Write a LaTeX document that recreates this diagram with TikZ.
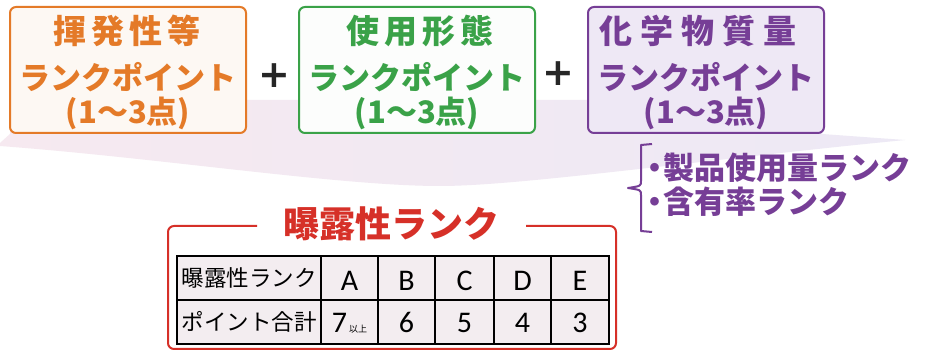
\documentclass[tikz,border=0pt]{standalone}
\usepackage{fontspec}
\newfontfamily\jp{Noto Sans CJK JP}
\newfontfamily\lat{Carlito}
\newfontfamily\symf{DejaVu Sans}
\definecolor{oran}{RGB}{228,122,40}
\definecolor{gree}{RGB}{58,162,72}
\definecolor{purp}{RGB}{118,62,150}
\definecolor{redt}{RGB}{214,48,40}
\definecolor{ofill}{RGB}{253,248,243}
\definecolor{gfill}{RGB}{252,253,252}
\definecolor{pfill}{RGB}{238,232,245}
\definecolor{tfill}{RGB}{243,237,240}
\definecolor{pinkf}{RGB}{246,233,240}
\definecolor{lavf}{RGB}{237,233,245}
\tikzset{
  topbox/.style={draw, line width=2pt, rounded corners=6pt, minimum width=236pt, minimum height=126pt, inner sep=0pt},
  toptext/.style={font=\jp\bfseries\fontsize{31}{31}\selectfont, inner sep=0pt, anchor=center},
  headtext/.style={font=\jp\bfseries\fontsize{33}{33}\selectfont, inner sep=0pt, anchor=center},
  bultext/.style={font=\jp\bfseries\fontsize{31}{31}\selectfont, inner sep=0pt, anchor=west, text=purp},
  cell/.style={draw=black, line width=1.3pt, fill=tfill, inner sep=0pt, minimum height=44pt},
  jcell/.style={cell, font=\jp\fontsize{22.5}{22.5}\selectfont, text height=19pt, text depth=2pt},
  lcell1/.style={cell, font=\lat\fontsize{30}{30}\selectfont, text height=26pt, text depth=0pt},
  lcell2/.style={cell, font=\lat\fontsize{30}{30}\selectfont, text height=22pt, text depth=0pt},
  plus/.style={font=\symf\bfseries\fontsize{38}{38}\selectfont, inner sep=0pt, text=black!85}
}
\begin{document}
\begin{tikzpicture}[x=1pt,y=-1pt]
\useasboundingbox (0,0) rectangle (926,352);
\fill[white] (0,0) rectangle (926,352);
% funnel background
\shade[left color=pinkf, right color=lavf]
  (10,100) -- (822,100) -- (822,134) -- (905,140)
  .. controls (700,160) and (520,186) .. (440,186)
  .. controls (340,186) and (160,158) .. (0,146)
  -- (0,143) -- (10,134) -- cycle;
% top boxes
\node[topbox, draw=oran, fill=ofill] (vbox) at (128,70) {};
\node[topbox, draw=gree, fill=gfill] (ubox) at (417,70) {};
\node[topbox, draw=purp, fill=pfill] (cbox) at (706,70) {};
\node[headtext, text=oran] (v1) at (127,31) {揮\hspace{5pt}発\hspace{5pt}性\hspace{5pt}等};
\node[toptext, text=oran] (v2) at (128,77) {ランクポイント};
\node[toptext, text=oran] (v3) at (128,113) {(1〜3点)};
\node[headtext, text=gree] (u1) at (420,31) {使\hspace{5pt}用\hspace{5pt}形\hspace{5pt}態};
\node[toptext, text=gree] (u2) at (417,77) {ランクポイント};
\node[toptext, text=gree] (u3) at (417,113) {(1〜3点)};
\node[headtext, text=purp] (c1) at (698,31) {化\hspace{8pt}学\hspace{8pt}物\hspace{8pt}質\hspace{8pt}量};
\node[toptext, text=purp] (c2) at (706,77) {ランクポイント};
\node[toptext, text=purp] (c3) at (706,113) {(1〜3点)};
% plus signs
\node[plus] (p1) at (274,76) {+};
\node[plus] (p2) at (558,74) {+};
% brace and sub items
\coordinate (bt) at (652,144);
\coordinate (bb) at (652,232);
\draw[purp, line width=2pt, line join=round]
  (bt) -- (641,145) -- (641,181) .. controls (641,186) .. (628,188)
  .. controls (641,190) .. (641,195) -- (641,231) -- (bb);
\node[bultext] (s1) at (647,168) {\makebox[16pt][c]{・}製品使用量ランク};
\node[bultext] (s2) at (647,202) {\makebox[16pt][c]{・}含有率ランク};
% exposure rank frame
\node[font=\jp\bfseries\fontsize{36}{36}\selectfont, text=redt, inner sep=0pt] (title) at (391,224) {曝露性ランク};
\draw[redt, line width=2pt, rounded corners=6pt]
  (257,226) -- (168,226) -- (168,349) -- (616,349) -- (616,226) -- (526,226);
% table
\node[jcell, minimum width=144pt] (h0) at (249,278) {曝露性ランク};
\node[lcell1, minimum width=57pt] (h1) at (349.5,278) {A};
\node[lcell1, minimum width=57pt] (h2) at (406.5,278) {B};
\node[lcell1, minimum width=59pt] (h3) at (464.5,278) {C};
\node[lcell1, minimum width=57pt] (h4) at (522.5,278) {D};
\node[lcell1, minimum width=58pt] (h5) at (580,278) {E};
\node[jcell, minimum width=144pt] (r0) at (249,322) {ポイント合計};
\node[lcell2, minimum width=57pt] (r1) at (349.5,322) {7\hspace{2pt}{\jp\fontsize{9}{9}\selectfont 以上}};
\node[lcell2, minimum width=57pt] (r2) at (406.5,322) {6};
\node[lcell2, minimum width=59pt] (r3) at (464.5,322) {5};
\node[lcell2, minimum width=57pt] (r4) at (522.5,322) {4};
\node[lcell2, minimum width=58pt] (r5) at (580,322) {3};
\end{tikzpicture}
\end{document}
